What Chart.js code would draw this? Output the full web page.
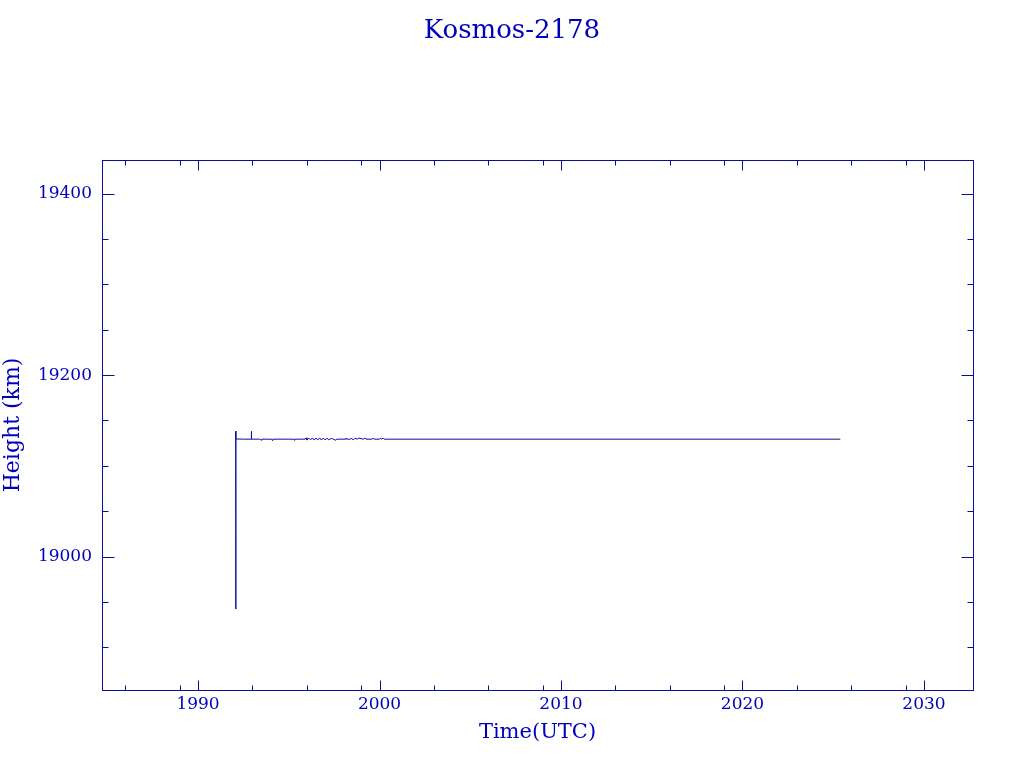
<!DOCTYPE html>
<html>
<head>
<meta charset="utf-8">
<title>Kosmos-2178</title>
<script src="https://cdn.jsdelivr.net/npm/chart.js@4.4.1/dist/chart.umd.min.js"></script>
<style>
    html, body { margin: 0; padding: 0; background: #ffffff; }
    #wrap { width: 1024px; height: 768px; }
</style>
</head>
<body>
<div id="wrap"><canvas id="hChart" width="1024" height="768"></canvas></div>
<script>

// orbit height series, time in decimal years
const times = [1992.08, 1992.08, 1992.09, 1992.50, 1992.93, 1992.94, 1992.95, 1993.40, 1993.50, 1993.52,
    1994.05, 1994.10, 1994.12, 1995.25, 1995.30, 1995.33, 1995.90, 1995.95, 1996.00, 1996.10,
    1996.20, 1996.30, 1996.40, 1996.50, 1996.60, 1996.70, 1996.80, 1996.90, 1997.00, 1997.10,
    1997.20, 1997.35, 1997.45, 1997.60, 1997.65, 1998.10, 1998.15, 1998.20, 1998.40, 1998.45,
    1998.55, 1998.65, 1998.80, 1998.85, 1999.10, 1999.20, 1999.25, 1999.60, 1999.65, 1999.70,
    2000.00, 2000.05, 2000.10, 2000.20, 2000.25, 2010.00, 2025.39];
const heights = [19138.2, 18942.2, 19129.6, 19129.4, 19129.4, 19138.0, 19129.4, 19129.4, 19128.2, 19129.4,
    19129.4, 19127.8, 19129.4, 19129.4, 19128.2, 19129.4, 19129.4, 19130.8, 19128.4, 19130.6,
    19128.6, 19130.8, 19128.4, 19130.6, 19128.6, 19130.8, 19128.4, 19130.6, 19128.6, 19130.4,
    19128.8, 19130.2, 19129.4, 19128.2, 19129.4, 19129.4, 19130.6, 19129.4, 19129.4, 19130.6,
    19128.4, 19130.4, 19129.4, 19130.6, 19129.4, 19130.6, 19129.4, 19129.4, 19130.6, 19129.4,
    19129.4, 19130.6, 19129.4, 19130.4, 19129.4, 19129.4, 19129.4];

const xMajor = [1990, 2000, 2010, 2020, 2030];
const xMinor = [1986, 1989, 1993, 1996, 1999, 2003, 2006, 2009, 2013, 2016, 2019, 2023, 2026, 2029];
const yMajor = [19000, 19200, 19400];
const yMinor = [18900, 18950, 19050, 19100, 19150, 19250, 19300, 19350];

const lineCol = '#0c0c9c';
const textCol = '#0000bc';
const fontFam = '"DejaVu Serif", "Liberation Serif", serif';

// frame + inward ticks on all four sides (pgplot look)
const frameTicks = {
    id: 'frameTicks',
    afterDraw(chart) {
        var ctx = chart.ctx;
        var a = chart.chartArea;
        var sx = chart.scales.x, sy = chart.scales.y;
        var L = Math.round(a.left) + 0.5, R = Math.round(a.right) + 0.5;
        var T = Math.round(a.top) + 0.5, B = Math.round(a.bottom) + 0.5;
        ctx.save();
        ctx.strokeStyle = lineCol;
        ctx.lineWidth = 1;
        ctx.strokeRect(L, T, R - L, B - T);
        ctx.beginPath();
        var xt = (v, len) => {
            var px = Math.round(sx.getPixelForValue(v)) + 0.5;
            ctx.moveTo(px, B); ctx.lineTo(px, B - len);
            ctx.moveTo(px, T); ctx.lineTo(px, T + len);
        };
        var yt = (v, len) => {
            var py = Math.round(sy.getPixelForValue(v)) + 0.5;
            ctx.moveTo(L, py); ctx.lineTo(L + len, py);
            ctx.moveTo(R, py); ctx.lineTo(R - len, py);
        };
        xMajor.forEach(v => xt(v, 10));
        xMinor.forEach(v => xt(v, 5));
        yMajor.forEach(v => yt(v, 12));
        yMinor.forEach(v => yt(v, 6));
        ctx.stroke();
        ctx.restore();
    }
};

const noGrid = { display: false, drawTicks: false, tickLength: 0 };

new Chart(document.getElementById('hChart'), {
    type: 'line',
    data: {
        datasets: [{
            label: 'Kosmos-2178',
            data: times.map((t, i) => ({x: t, y: heights[i]})),
            borderColor: lineCol,
            borderWidth: 1,
            pointRadius: 0,
            fill: false,
            tension: 0
        }]
    },
    options: {
        responsive: false,
        animation: false,
        events: [],
        layout: { padding: 0 },
        plugins: {
            legend: { display: false },
            tooltip: { enabled: false },
            title: {
                display: true,
                text: 'Kosmos-2178',
                color: textCol,
                font: { family: fontFam, size: 26, weight: 'normal' },
                padding: { top: 16, bottom: 112.8 }
            }
        },
        scales: {
            x: {
                type: 'linear',
                min: 1984.71,
                max: 2032.70,
                afterBuildTicks: s => { s.ticks = xMajor.map(v => ({value: v})); },
                afterFit: s => { s.height = 78; },
                grid: noGrid,
                border: { display: false },
                ticks: {
                    color: textCol,
                    padding: 4,
                    maxRotation: 0,
                    font: { family: fontFam, size: 17 },
                    callback: v => String(v)
                },
                title: {
                    display: true,
                    text: 'Time(UTC)',
                    color: textCol,
                    font: { family: fontFam, size: 21 },
                    padding: { top: 0, bottom: 23 }
                }
            },
            y: {
                type: 'linear',
                min: 18853,
                max: 19437,
                afterBuildTicks: s => { s.ticks = yMajor.map(v => ({value: v})); },
                afterFit: s => { s.width = 102; },
                grid: noGrid,
                border: { display: false },
                ticks: {
                    color: textCol,
                    padding: 10,
                    font: { family: fontFam, size: 17 },
                    callback: v => String(v)
                },
                title: {
                    display: true,
                    text: 'Height (km)',
                    color: textCol,
                    font: { family: fontFam, size: 22 },
                    padding: { top: 0, bottom: 2 }
                }
            },
            // empty strip on the right so the plot box ends where the original does
            yr: {
                type: 'linear',
                position: 'right',
                min: 18853,
                max: 19437,
                afterFit: s => { s.width = 51; },
                grid: noGrid,
                border: { display: false },
                ticks: { display: false }
            }
        }
    },
    plugins: [frameTicks]
});

</script>
</body>
</html>
